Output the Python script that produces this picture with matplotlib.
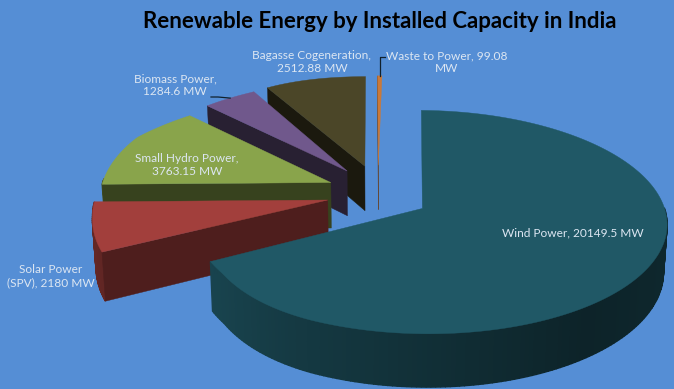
import numpy as np
import matplotlib
matplotlib.use('Agg')
import matplotlib.pyplot as plt
from matplotlib.patches import Polygon

# valores em MW, sentido horario a partir do topo
names = ['Wind Power', 'Solar Power', 'Small Hydro Power', 'Biomass Power', 'Bagasse Cogeneration', 'Waste to Power']
values = [20149.5, 2180, 3763.15, 1284.6, 2512.88, 99.08]
top_colors = ['#205866', '#A23F3C', '#89A44B', '#70588C', '#4B4628', '#C9793A']
side_dark = [0.44, 0.48, 0.40, 0.36, 0.36, 0.5]
rim_left = [0.8, 0.62, 0.5, 0.45, 0.45, 0.6]
labels = ['Wind Power, 20149.5 MW', 'Solar Power\n(SPV), 2180 MW', 'Small Hydro Power,\n3763.15 MW',
          'Biomass Power,\n1284.6 MW', 'Bagasse Cogeneration,\n2512.88 MW', 'Waste to Power, 99.08\nMW']
label_x = [573, 51, 187, 175, 312, 447]
label_y = [233, 276, 165, 85, 62, 62]
title = 'Renewable Energy by Installed Capacity in India'

bg = '#558ED5'
txt = '#DCE6F2'

# geometria da pizza em pixels
cx, cy = 378, 193
A, B = 238, 106.3
k = 0.12
ex, ey = 0.216, 0.27
depth = 46
first_angle = np.radians(1)


def proj(x, y):
    den = 1 + k * y
    f = np.interp(x, [-1.3, -1.2, -1.09, -0.9, -0.65, -0.25, 2], [0.98, 0.975, 0.99, 0.94, 0.92, 1, 1])
    return cx + A * x * f / den, cy - B * y / den


def low(x, y):
    # mesmo ponto na face de baixo
    px, py = proj(x, y)
    return px + (3 if px < cx else -3) * abs(px - cx) / 240, py + depth / (1 + k * y)


def rim_shade(u, left):
    return np.interp(u, [-1, -0.5, 0.6, 1], [left, left * 0.82, left * 0.5, left * 0.56])


def c_mul(col, s):
    rgb = np.array(matplotlib.colors.to_rgb(col)) * s
    return tuple(np.clip(rgb, 0, 1))


fig = plt.figure(figsize=(6.74, 3.89), dpi=100, facecolor=bg)
ax = fig.add_axes([0, 0, 1, 1])
ax.set_xlim(0, 674)
ax.set_ylim(389, 0)
ax.axis('off')

fracs = np.array(values) / sum(values)
ends = np.cumsum(fracs) * 2 * np.pi + first_angle
starts = ends - fracs * 2 * np.pi
mids = (starts + ends) / 2

# desenha de tras para frente
order = np.argsort(-np.cos(mids))
for i in order:
    ax0 = ex * np.sin(mids[i])
    ay0 = ey * np.cos(mids[i])
    t = np.linspace(starts[i], ends[i], max(int(np.degrees(ends[i] - starts[i])), 4))
    xs = ax0 + np.sin(t)
    ys = ay0 + np.cos(t)
    col = top_colors[i]
    for j in range(len(t) - 1):
        if np.cos(t[j]) > 0.02:  # parte de tras nao aparece
            continue
        q = [proj(xs[j], ys[j]), proj(xs[j + 1], ys[j + 1]), low(xs[j + 1], ys[j + 1]), low(xs[j], ys[j])]
        c = c_mul(col, rim_shade(np.sin(t[j]), rim_left[i]))
        ax.add_patch(Polygon(q, closed=True, fc=c, ec=c, lw=1))
    if fracs[i] < 0.5:  # so a face radial inicial fica visivel
        q = [proj(ax0, ay0), proj(xs[0], ys[0]), low(xs[0], ys[0]), low(ax0, ay0)]
        c = c_mul(col, side_dark[i])
        ax.add_patch(Polygon(q, closed=True, fc=c, ec=c, lw=0.3))
    top = [proj(ax0, ay0)] + [proj(a, b) for a, b in zip(xs, ys)]
    ax.add_patch(Polygon(top, closed=True, fc=col, ec=col, lw=0.3))

ax.text(380, 21, title, ha='center', va='center', fontsize=16, fontweight='bold',
        family='Lato', color='black', zorder=5)

for i in range(len(labels)):
    ax.text(label_x[i], label_y[i], labels[i], ha='center', va='center', fontsize=8.6,
            family='Lato', color=txt, linespacing=1.2, zorder=5)


def arc_mid(i):
    return proj(ex * np.sin(mids[i]) + np.sin(mids[i]), ey * np.cos(mids[i]) + np.cos(mids[i]))


# linhas de chamada
i = names.index('Biomass Power')
p = arc_mid(i)
ax.plot([211, 218, p[0]], [97, 97, p[1]], color='#10202c', lw=0.9, zorder=4)
i = names.index('Waste to Power')
p = arc_mid(i)
ax.plot([385, p[0], p[0]], [57, 57, p[1]], color='#10202c', lw=0.9, zorder=4)

fig.savefig('out.png', dpi=100, facecolor=bg)
